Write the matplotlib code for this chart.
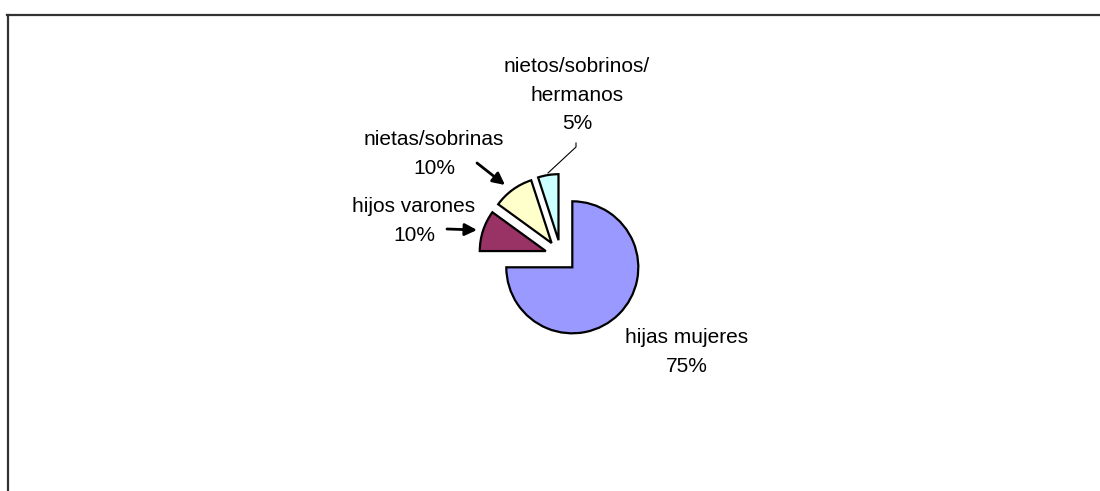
import matplotlib
matplotlib.use("Agg")
import matplotlib.pyplot as plt
from matplotlib.lines import Line2D

categories = ["hijas mujeres", "hijos varones", "nietas/sobrinas", "nietos/sobrinos/\nhermanos"]
values = [75, 10, 10, 5]
colors = ["#9999FF", "#993366", "#FFFFCC", "#CCFFFF"]

W, H = 1100, 491
fig = plt.figure(figsize=(W / 100, H / 100), dpi=100)
ax = fig.add_axes([0, 0, 1, 1])

def py(y):
    return H - y

cx, cy, r = 561, 256, 66
ax.pie(values, startangle=90, counterclock=False, explode=[16] * len(values),
       radius=r, center=(cx, py(cy)), colors=colors, frame=True,
       wedgeprops=dict(edgecolor="black", linewidth=1.6))
ax.set_xlim(0, W)
ax.set_ylim(0, H)
ax.set_aspect("equal")
ax.axis("off")

font = dict(family=["Liberation Sans", "DejaVu Sans"], fontsize=15, color="black",
            ha="center", va="center", linespacing=1.62)

label_pos = [(687, 352), (414, 221), (434, 154), (577, 95)]
for cat, v, (lx, ly) in zip(categories, values, label_pos):
    ax.text(lx, py(ly), f"{cat}\n{v}%", **font)

# arrows
ax.annotate("", xy=(477, py(230)), xytext=(447, py(229)),
            arrowprops=dict(arrowstyle="-|>", color="black", lw=2, mutation_scale=18,
                            shrinkA=0, shrinkB=0))
ax.annotate("", xy=(505, py(185)), xytext=(477, py(163)),
            arrowprops=dict(arrowstyle="-|>", color="black", lw=2, mutation_scale=18,
                            shrinkA=0, shrinkB=0))
# leader line for small slice
ax.plot([576, 576, 548], [py(143), py(147), py(173)], color="black", lw=0.8)

# open frame (top and left)
fig.add_artist(Line2D([7 / W, 1.0], [1 - 15 / H, 1 - 15 / H], color="#333333", lw=1.6,
                      transform=fig.transFigure))
fig.add_artist(Line2D([7.5 / W, 7.5 / W], [0, 1 - 15 / H], color="#333333", lw=1.6,
                      transform=fig.transFigure))

fig.savefig("out.png", dpi=100, facecolor="white")
